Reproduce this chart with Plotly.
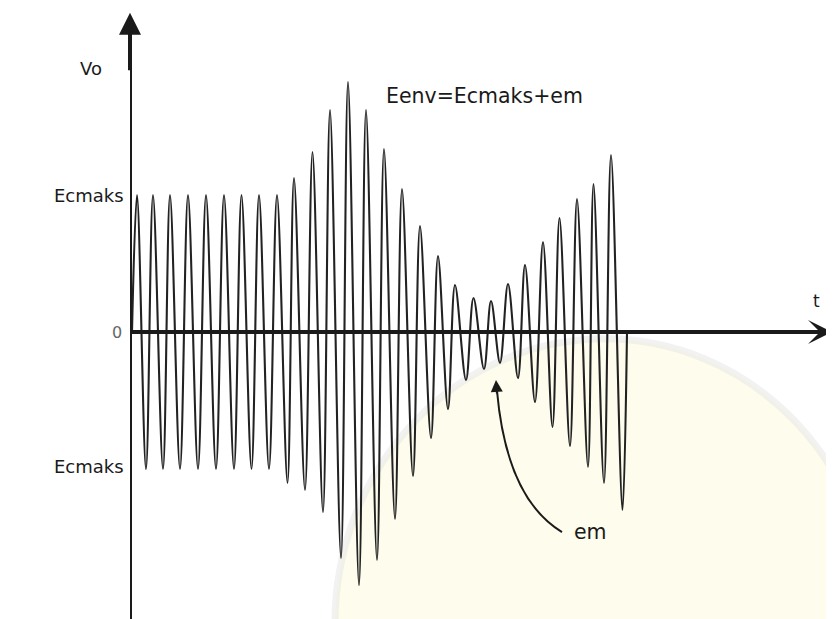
import plotly.graph_objects as go

# ---- data (t in arbitrary time units, Vo normalised so Ecmaks = 1) ----
top_t = [7, 23, 40, 58, 76, 94, 111.5, 129, 147, 164, 182.5, 200, 218, 236, 254, 272, 290, 308,
         325, 343.5, 361, 378, 395, 413, 429.5, 447, 463.5, 481]
top_v = [1.0, 1.0, 1.0, 1.0, 1.0, 1.0, 1.0, 1.0, 1.0, 1.124, 1.314, 1.62, 1.825, 1.62, 1.336,
         1.044, 0.774, 0.555, 0.343, 0.248, 0.226, 0.35, 0.489, 0.657, 0.832, 0.971, 1.08, 1.292]
bot_t = [16, 33, 50, 68, 86, 104, 121.5, 139, 157.5, 175, 193, 211, 229, 247, 265, 283, 301, 318,
         336, 354, 370, 388, 405, 422.5, 440, 458, 474, 492.5]
bot_v = [-1.0, -1.0, -1.0, -1.0, -1.0, -1.0, -1.0, -1.0, -1.102, -1.153, -1.314, -1.65, -1.847,
         -1.664, -1.365, -1.051, -0.774, -0.562, -0.35, -0.27, -0.226, -0.336, -0.511, -0.693,
         -0.832, -0.985, -1.102, -1.299]
start_t, end_t = 2, 497

y_labels = ["Ecmaks", "0", "Ecmaks"]
y_label_vals = [1.0, 0.0, -0.985]

# interleave extrema into one wave
wave_t = [start_t]
wave_v = [0.0]
for a, b, c, d in zip(top_t, top_v, bot_t, bot_v):
    wave_t += [a, c]
    wave_v += [b, d]
wave_t.append(end_t)
wave_v.append(0.0)

INK = "#1a1a1a"
FONT = "DejaVu Sans, Verdana, sans-serif"

fig = go.Figure()
fig.add_trace(go.Scatter(x=wave_t, y=wave_v, mode="lines",
                         line=dict(color="#222222", width=2.1, shape="spline", smoothing=1.0),
                         hoverinfo="skip", showlegend=False))

X_MIN, X_MAX = 0, 712
Y_MIN, Y_MAX = -2.153, 2.365

shapes = [
    # faint watermark
    dict(type="circle", xref="x", yref="y", x0=205, x1=745, y0=-4.2, y1=-0.05,
         fillcolor="rgba(253,249,210,0.42)", line=dict(color="rgba(230,230,230,0.5)", width=7),
         layer="below"),
    # axes
    dict(type="line", xref="x", yref="y", x0=0, x1=0, y0=Y_MIN, y1=2.1,
         line=dict(color=INK, width=4)),
    dict(type="line", xref="x", yref="y", x0=0, x1=690, y0=0, y1=0,
         line=dict(color=INK, width=4)),
    # curved pointer for em
    dict(type="path", xref="x", yref="y",
         path="M 432,-1.46 Q 376.5,-1.215 367,-0.43",
         line=dict(color=INK, width=2)),
]

annotations = [
    # axis arrowheads
    dict(x=0, y=2.33, ax=0, ay=1.9, xref="x", yref="y", axref="x", ayref="y", text="",
         showarrow=True, arrowhead=2, arrowsize=1.1, arrowwidth=4, arrowcolor=INK),
    dict(x=702, y=0, ax=660, ay=0, xref="x", yref="y", axref="x", ayref="y", text="",
         showarrow=True, arrowhead=3, arrowsize=1.0, arrowwidth=4, arrowcolor=INK),
    # em pointer arrowhead
    dict(x=366, y=-0.35, ax=367, ay=-0.46, xref="x", yref="y", axref="x", ayref="y", text="",
         showarrow=True, arrowhead=2, arrowsize=1.2, arrowwidth=2, arrowcolor=INK),
    dict(x=0, y=1.92, xshift=-39, xref="x", yref="y", text="Vo", showarrow=False,
         font=dict(family=FONT, size=18, color=INK)),
    dict(x=0, y=y_label_vals[1], xshift=-13, xref="x", yref="y", text=y_labels[1], showarrow=False,
         xanchor="center", font=dict(family=FONT, size=16, color="#666")),
    dict(x=0, y=y_label_vals[0], xshift=-4, xref="x", yref="y", text=y_labels[0], showarrow=False,
         xanchor="right", font=dict(family=FONT, size=18, color=INK)),
    dict(x=0, y=y_label_vals[2], xshift=-4, xref="x", yref="y", text=y_labels[2], showarrow=False,
         xanchor="right", font=dict(family=FONT, size=18, color=INK)),
    dict(x=686, y=0.23, xref="x", yref="y", text="t", showarrow=False,
         font=dict(family=FONT, size=17, color=INK)),
    dict(x=254, y=1.72, xref="x", yref="y", text="Eenv=Ecmaks+em", showarrow=False,
         xanchor="left", font=dict(family=FONT, size=20.5, color=INK)),
    dict(x=460, y=-1.46, xref="x", yref="y", text="em", showarrow=False,
         font=dict(family=FONT, size=20.5, color=INK)),
]

fig.update_layout(
    width=834, height=619,
    margin=dict(l=122, r=0, t=0, b=0),
    paper_bgcolor="white", plot_bgcolor="white",
    xaxis=dict(range=[X_MIN, X_MAX], visible=False, fixedrange=True),
    yaxis=dict(range=[Y_MIN, Y_MAX], visible=False, fixedrange=True),
    shapes=shapes, annotations=annotations, showlegend=False,
)

fig.write_html("out.html")
